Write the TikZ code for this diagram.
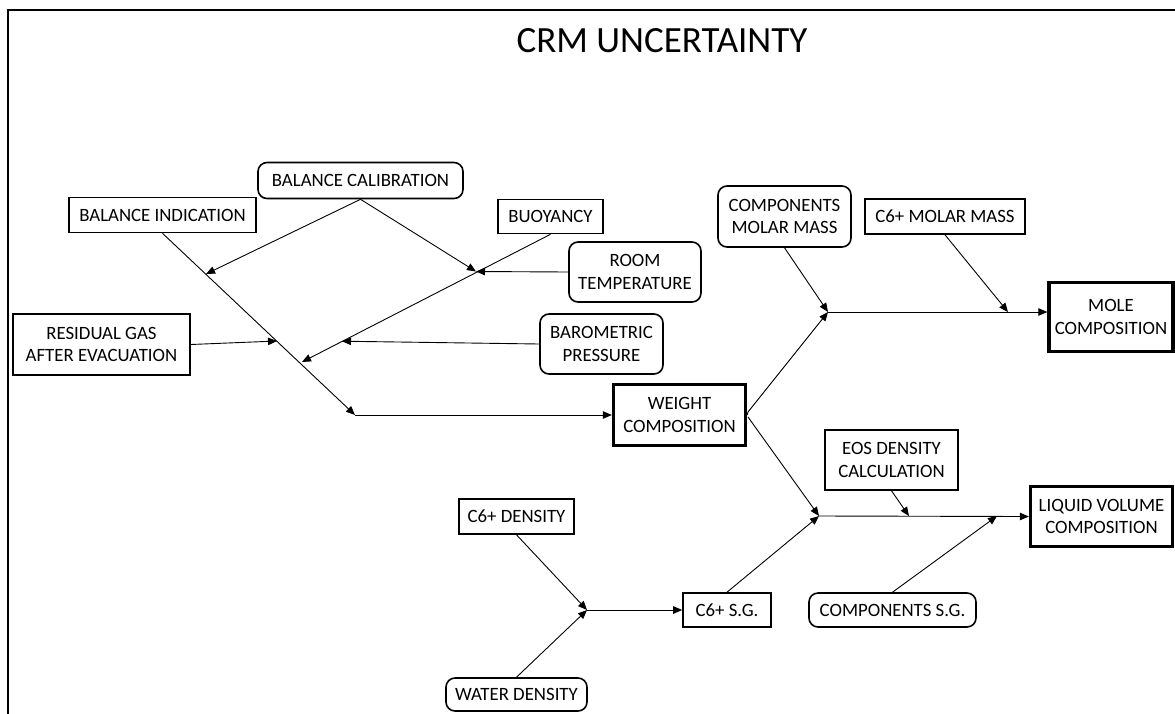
\documentclass[tikz,border=0pt]{standalone}
\usepackage{fontspec}
\setmainfont{Carlito}
\usetikzlibrary{arrows.meta}
\begin{document}
\begin{tikzpicture}[x=1pt,y=-1pt,
  box/.style={draw, line width=1.6pt, inner sep=0pt, align=center,
    font=\fontsize{18.8}{22.5}\selectfont},
  rbox/.style={box, rounded corners=9pt},
  tbox/.style={box, line width=3.3pt},
  conn/.style={line width=0.9pt, -{Triangle[length=9pt,width=7.5pt]}},
  plainline/.style={line width=0.9pt}]
\useasboundingbox (0,0) rectangle (1175,713);
% frame
\draw[line width=2pt] (8,720) -- (8,10) -- (1180,10);
% title
\node[font=\fontsize{37}{44}\selectfont, inner sep=0pt] (title) at (662,41) {CRM UNCERTAINTY};

% left cluster
\node[rbox, minimum width=205pt, minimum height=36pt] (balcal) at (360.5,180.5) {BALANCE CALIBRATION};
\node[box, minimum width=187pt, minimum height=35pt] (balind) at (162.5,215) {BALANCE INDICATION};
\node[box, minimum width=177pt, minimum height=61pt] (resid) at (101.5,344.5) {RESIDUAL GAS\\AFTER EVACUATION};
\node[box, minimum width=105pt, minimum height=34pt] (buoy) at (550.5,216.5) {BUOYANCY};
\node[rbox, minimum width=132pt, minimum height=60pt] (roomt) at (635,272) {ROOM\\TEMPERATURE};
\node[rbox, minimum width=123pt, minimum height=60pt] (baro) at (601.5,344) {BAROMETRIC\\PRESSURE};
\node[tbox, minimum width=132pt, minimum height=61pt] (weight) at (679.5,415) {WEIGHT\\COMPOSITION};

% right upper
\node[rbox, minimum width=133pt, minimum height=61pt] (compmm) at (784.5,216.5) {COMPONENTS\\MOLAR MASS};
\node[box, minimum width=160pt, minimum height=35pt] (c6mm) at (945,216.5) {C6+ MOLAR MASS};
\node[tbox, minimum width=124pt, minimum height=69pt] (mole) at (1111,317) {MOLE\\COMPOSITION};

% right lower
\node[box, minimum width=133pt, minimum height=60pt] (eos) at (891.5,460) {EOS DENSITY\\CALCULATION};
\node[tbox, minimum width=142pt, minimum height=60pt] (liq) at (1101.5,516.5) {LIQUID VOLUME\\COMPOSITION};
\node[box, minimum width=115pt, minimum height=35pt] (c6den) at (516.5,516.5) {C6+ DENSITY};
\node[rbox, minimum width=141pt, minimum height=33pt] (water) at (516.5,694.5) {WATER DENSITY};
\node[box, minimum width=88pt, minimum height=34pt] (c6sg) at (727,610) {C6+ S.G.};
\node[rbox, minimum width=167pt, minimum height=34pt] (compsg) at (892.5,610) {COMPONENTS S.G.};

% junction coordinates
\coordinate (J1) at (355,415);
\coordinate (A1) at (206,274);
\coordinate (A2) at (277,341);
\coordinate (A3) at (302,362);
\coordinate (B1) at (476,271.5);
\coordinate (B2) at (342,341.2);
\coordinate (M1) at (828,312);
\coordinate (M2) at (1008,312);
\coordinate (L1) at (819,516);
\coordinate (L2) at (909,516);
\coordinate (L3) at (997,516);
\coordinate (C1) at (587,610);
\coordinate (WU) at (748,412);
\coordinate (WD) at (748,417);

% left connectors
\draw[conn] (balind.south) -- (J1);
\draw[conn] (J1) -- (weight.west);
\draw[conn] (balcal.south) -- (A1);
\draw[conn] (balcal.south) -- (B1);
\draw[conn] (resid.east) -- (A2);
\draw[conn] (buoy.south) -- (A3);
\draw[conn] (roomt.west) -- (B1);
\draw[conn] (baro.west) -- (B2);

% mole branch
\draw[plainline] (weight.east) -- (WU);
\draw[conn] (WU) -- (M1);
\draw[conn] (compmm.south) -- (M1);
\draw[conn] (c6mm.south) -- (M2);
\draw[conn] (M1) -- (mole.west |- M1);

% liquid volume branch
\draw[conn] (WD) -- (L1);
\draw[conn] (c6sg.north) -- (L1);
\draw[conn] (eos.south) -- (L2);
\draw[conn] (compsg.north) -- (L3);
\draw[conn] (L1) -- (liq.west);

% C6+ S.G. branch
\draw[conn] (c6den.south) -- (C1);
\draw[conn] (water.north) -- (C1);
\draw[conn] (C1) -- (c6sg.west);
\end{tikzpicture}
\end{document}
